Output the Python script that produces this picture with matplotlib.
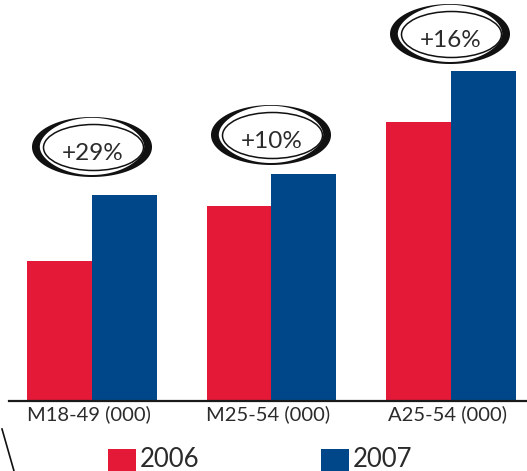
import numpy as np
import matplotlib.pyplot as plt
from matplotlib.patches import Polygon, Ellipse, Rectangle

# audience by demo, two seasons
groups = ["M18-49 (000)", "M25-54 (000)", "A25-54 (000)"]
years = ["2006", "2007"]
values_2006 = [140, 195, 279]
values_2007 = [206, 227, 330]
changes = ["+29%", "+10%", "+16%"]

colors = ["#e31937", "#00478a"]
ink = "#2b2b2b"
plt.rcParams['font.family'] = ['Lato', 'DejaVu Sans']

W, H = 527, 471
base = 401          # pixel row of the baseline
step = 179.5        # pixels between group centres
first = 92          # pixel column of the first group centre

fig = plt.figure(figsize=(W / 100, H / 100), dpi=100)
ax = fig.add_axes([0, (H - base) / H, 1, base / H])
x = np.arange(len(groups))
width = 65 / step
ax.bar(x - width / 2, values_2006, width, color=colors[0], zorder=2)
ax.bar(x + width / 2, values_2007, width, color=colors[1], zorder=2)
ax.set_xlim(-first / step, (W - first) / step)
ax.set_ylim(0, base)
ax.axhline(0, xmin=9 / W, color="#1a1a1a", lw=1.6, zorder=3, clip_on=False)
for s in ax.spines.values():
    s.set_visible(False)
ax.set_xticks([])
ax.set_yticks([])
ax.patch.set_alpha(0)

for xi, g in zip(x, groups):
    ax.text(xi - 3.5 / step, -19, g, ha="center", va="baseline",
            fontsize=14.5, color=ink, clip_on=False)

# overlay in pixel coordinates for badges and legend
ov = fig.add_axes([0, 0, 1, 1], zorder=5)
ov.set_xlim(0, W)
ov.set_ylim(H, 0)
ov.axis("off")
ov.patch.set_alpha(0)


def badge(cx, cy, text):
    a, b = 60, 30
    th = np.linspace(0, 2 * np.pi, 300)
    t = 0.8 + 7.0 * np.cos(th) ** 2 + 1.2 * np.clip(np.sin(th), 0, None)
    outer = np.c_[cx + a * np.cos(th), cy + b * np.sin(th)]
    inner = np.c_[cx + (a - t) * np.cos(th), cy + (b - t) * np.sin(th)]
    ov.add_patch(Polygon(np.vstack([outer, inner[::-1]]), closed=True,
                         fc="#111111", ec="none"))
    ov.add_patch(Ellipse((cx + 1.5, cy + 0.5), 2 * (a - 10), 2 * (b - 7),
                         fill=False, ec="#111111", lw=1.1))
    ov.text(cx + 0.5, cy + 13, text, ha="center", va="baseline",
            fontsize=17.5, color=ink)


badge_centers = [(92, 147), (271, 135), (450, 34)]
for (cx, cy), c in zip(badge_centers, changes):
    badge(cx, cy, c)

# legend
for lx, label, col in zip([108, 321], years, colors):
    ov.add_patch(Rectangle((lx, 449), 28, 26, fc=col, ec="none"))
    ov.text(lx + 32, 467, label, ha="left", va="baseline", fontsize=18.5,
            color=ink)

ov.plot([2, 14], [429, 471], color="#111111", lw=1.2)

fig.savefig("out.png", dpi=100)
